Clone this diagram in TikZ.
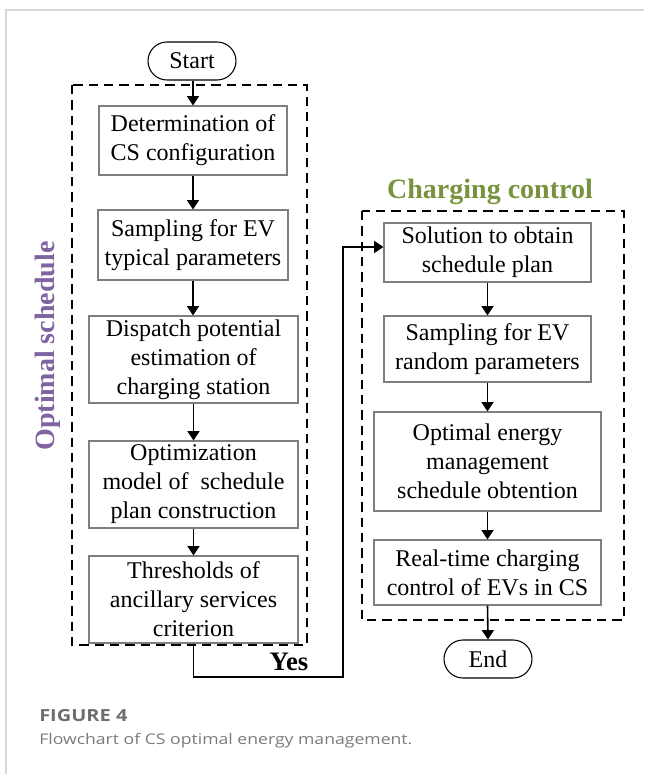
\documentclass[tikz,border=0pt]{standalone}
\usepackage{fontspec}
\setmainfont{Liberation Serif}
\newfontfamily\capfont[FakeStretch=1.2]{Open Sans}
\usetikzlibrary{arrows.meta,shapes.misc}
\definecolor{boxline}{HTML}{7F7F7F}
\definecolor{schedpurple}{HTML}{8064A2}
\definecolor{ctrlgreen}{HTML}{77933C}
\definecolor{capgray}{HTML}{6E6E6E}
\definecolor{capgraylight}{HTML}{7A7A7A}
\definecolor{cardline}{HTML}{D9D9D9}
\tikzset{
  stepbox/.style={draw=boxline, line width=0.8pt, rectangle, align=center,
    inner sep=0pt, font=\fontsize{18}{21.8}\selectfont},
  terminal/.style={draw=black, line width=0.8pt, rounded rectangle, inner sep=0pt,
    minimum width=66pt, minimum height=28.5pt, font=\fontsize{18}{21.8}\selectfont},
  flow/.style={draw=black, line width=1.2pt, -{Triangle[width=9pt,length=7pt]}},
  group/.style={draw=black, line width=1.1pt, dash pattern=on 7pt off 4.5pt},
  grouptitle/.style={font=\fontsize{21}{24}\selectfont\bfseries, inner sep=0pt},
}
\begin{document}
\begin{tikzpicture}[x=0.75pt,y=-0.75pt]
\useasboundingbox (0,0) rectangle (644,774);
% card frame
\draw[cardline, line width=1pt] (6,774) -- (6,10) -- (644,10);

% group frames
\draw[group] (72,85) rectangle (307,645);
\draw[group] (362,211) rectangle (624,620);
\node[grouptitle, text=schedpurple, rotate=90] (tsched) at (48,346) {Optimal schedule};
\node[grouptitle, text=ctrlgreen] (tctrl) at (490,192) {Charging control};

% left column
\node[terminal] (start) at (192,61) {Start};
\node[stepbox, minimum width=141pt, minimum height=51.75pt] (b1) at (193,140.5)
  {Determination of\\CS configuration};
\node[stepbox, minimum width=142.5pt, minimum height=52.5pt] (b2) at (193,245)
  {Sampling for EV\\typical parameters};
\node[stepbox, minimum width=156.75pt, minimum height=65.25pt] (b3) at (193.5,359.5)
  {Dispatch potential\\estimation of\\charging station};
\node[stepbox, minimum width=156.75pt, minimum height=65.25pt] (b4) at (193.5,484.5)
  {Optimization\\model of\ \ schedule\\plan construction};
\node[stepbox, minimum width=156.75pt, minimum height=65.25pt] (b5) at (193.5,599.5)
  {Thresholds of\\ancillary services\\criterion};

% right column
\node[stepbox, minimum width=155.25pt, minimum height=44.25pt] (b6) at (487.5,252.5)
  {Solution to obtain\\schedule plan};
\node[stepbox, minimum width=155.25pt, minimum height=49.5pt] (b7) at (487.5,349)
  {Sampling for EV\\random parameters};
\node[stepbox, minimum width=170.25pt, minimum height=74.25pt] (b8) at (487.5,461.5)
  {Optimal energy\\management\\schedule obtention};
\node[stepbox, minimum width=170.25pt, minimum height=48.75pt] (b9) at (487.5,572.5)
  {Real-time charging\\control of EVs in CS};
\node[terminal] (end) at (488,659) {End};

% connectors
\draw[flow] (start.south -| b1.north) -- (b1.north);
\draw[flow] (b1.south) -- (b2.north);
\draw[flow] (b2.south) -- (b2.south |- b3.north);
\draw[flow] (b3.south) -- (b4.north);
\draw[flow] (b4.south) -- (b5.north);
\coordinate (yesA) at (343,677);
\coordinate (yesB) at (343,247);
\draw[flow] (b5.south) |- (yesA) -- (yesB) -- (yesB -| b6.west);
\node[font=\fontsize{20}{24}\selectfont\bfseries, inner sep=0pt] (yes) at (289,662) {Yes};
\draw[flow] (b6.south) -- (b7.north);
\draw[flow] (b7.south) -- (b8.north);
\draw[flow] (b8.south) -- (b9.north);
\draw[flow] (b9.south) -- (end.north);

% caption
\node[anchor=west, inner sep=0pt, text=capgray, font=\capfont\bfseries\fontsize{12.5}{14}\selectfont] (figno) at (39,716) {FIGURE 4};
\node[anchor=west, inner sep=0pt, text=capgraylight, font=\capfont\fontsize{11}{13}\selectfont] (figcap) at (39,741) {Flowchart of CS optimal energy management.};
\end{tikzpicture}
\end{document}
